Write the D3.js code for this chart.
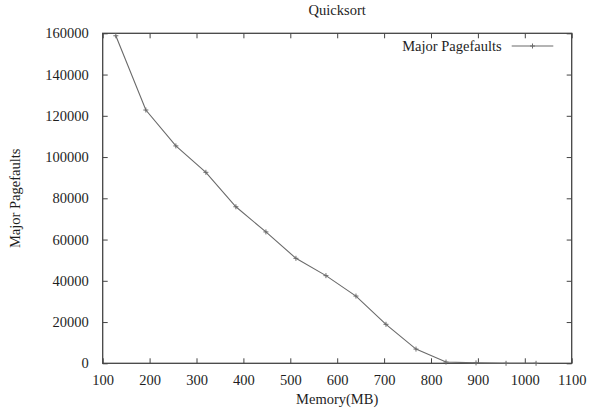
<!DOCTYPE html>
<html>
<head>
<meta charset="utf-8">
<script src="https://cdn.jsdelivr.net/npm/d3@7/dist/d3.min.js"></script>
<style>
  html, body { margin: 0; padding: 0; background: #fff; }
  svg text { font-family: "Liberation Serif", "DejaVu Serif", serif; fill: #1e1e1e; }
</style>
</head>
<body>
<svg id="chart" width="590" height="413"></svg>
<script>
// Quicksort: major page faults versus available memory
const memoryMB = [128, 192, 256, 320, 384, 448, 512, 576, 640, 704, 768, 832, 896, 960, 1024];
const majorPagefaults = [158800, 122800, 105400, 92600, 75900, 63700, 50900, 42500, 32600, 18900, 6900, 600, 200, 0, 0];
const xTicks = [100, 200, 300, 400, 500, 600, 700, 800, 900, 1000, 1100];
const yTicks = [0, 20000, 40000, 60000, 80000, 100000, 120000, 140000, 160000];
const titleText = "Quicksort";
const xLabel = "Memory(MB)";
const yLabel = "Major Pagefaults";
const seriesName = "Major Pagefaults";

const svg = d3.select("#chart");
const m = { left: 102.7, right: 571.7, top: 33.3, bottom: 363.3 };
const fontSize = 14.5;
const frameColor = "#444";
const lineColor = "#6a6a6a";
const tickLen = 5;

const x = d3.scaleLinear().domain([100, 1100]).range([m.left, m.right]);
const y = d3.scaleLinear().domain([0, 160000]).range([m.bottom, m.top]);

// Axes with inward ticks, mirrored on top and right
function styleAxis(g) {
  g.select(".domain").remove();
  g.selectAll(".tick line").attr("stroke", frameColor).attr("stroke-width", 1);
  g.selectAll(".tick text").style("font-size", fontSize + "px").attr("fill", "#1e1e1e");
}

svg.append("g")
  .attr("transform", `translate(0,${m.bottom})`)
  .call(d3.axisBottom(x).tickValues(xTicks).tickFormat(d3.format("d")).tickSizeInner(-tickLen).tickSizeOuter(0).tickPadding(11))
  .call(styleAxis);

svg.append("g")
  .attr("transform", `translate(0,${m.top})`)
  .call(d3.axisTop(x).tickValues(xTicks).tickFormat("").tickSizeInner(-tickLen).tickSizeOuter(0))
  .call(styleAxis);

svg.append("g")
  .attr("transform", `translate(${m.left},0)`)
  .call(d3.axisLeft(y).tickValues(yTicks).tickFormat(d3.format("d")).tickSizeInner(-tickLen).tickSizeOuter(0).tickPadding(14))
  .call(styleAxis);

svg.append("g")
  .attr("transform", `translate(${m.right},0)`)
  .call(d3.axisRight(y).tickValues(yTicks).tickFormat("").tickSizeInner(-tickLen).tickSizeOuter(0))
  .call(styleAxis);

// Plot frame
svg.append("rect")
  .attr("x", m.left).attr("y", m.top)
  .attr("width", m.right - m.left).attr("height", m.bottom - m.top)
  .attr("fill", "none").attr("stroke", frameColor).attr("stroke-width", 1.3);

// Data line
const data = memoryMB.map((d, i) => ({ mem: d, pf: majorPagefaults[i] }));
svg.append("path")
  .datum(data)
  .attr("fill", "none")
  .attr("stroke", lineColor)
  .attr("stroke-width", 1.1)
  .attr("d", d3.line().x(d => x(d.mem)).y(d => y(d.pf)));

// "+" point markers
const s = 2.5;
svg.append("g").selectAll("path.pt")
  .data(data).join("path")
  .attr("class", "pt")
  .attr("fill", "none").attr("stroke", lineColor).attr("stroke-width", 1)
  .attr("d", d => {
    const cx = x(d.mem), cy = y(d.pf);
    return `M${cx - s},${cy}H${cx + s}M${cx},${cy - s}V${cy + s}`;
  });

// Legend
const legY = 46;
svg.append("text")
  .attr("x", 501.7).attr("y", legY + 5)
  .attr("text-anchor", "end")
  .style("font-size", fontSize + "px")
  .text(seriesName);
svg.append("line")
  .attr("x1", 511.7).attr("x2", 553.3).attr("y1", legY).attr("y2", legY)
  .attr("stroke", lineColor).attr("stroke-width", 1.1);
svg.append("path")
  .attr("fill", "none").attr("stroke", lineColor).attr("stroke-width", 1)
  .attr("d", `M${532.5 - s},${legY}H${532.5 + s}M${532.5},${legY - s}V${legY + s}`);

// Title and axis labels
svg.append("text")
  .attr("x", (m.left + m.right) / 2).attr("y", 15)
  .attr("text-anchor", "middle")
  .style("font-size", fontSize + "px")
  .text(titleText);

svg.append("text")
  .attr("x", (m.left + m.right) / 2).attr("y", 404)
  .attr("text-anchor", "middle")
  .style("font-size", fontSize + "px")
  .text(xLabel);

svg.append("text")
  .attr("transform", `translate(20,${(m.top + m.bottom) / 2}) rotate(-90)`)
  .attr("text-anchor", "middle")
  .style("font-size", fontSize + "px")
  .text(yLabel);
</script>
</body>
</html>
